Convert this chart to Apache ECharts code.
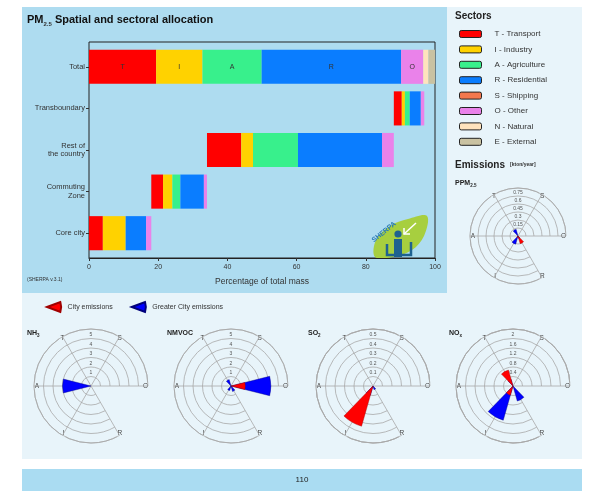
<!DOCTYPE html>
<html><head><meta charset="utf-8">
<script src="https://cdn.jsdelivr.net/npm/echarts@6/dist/echarts.min.js"></script>
<style>html,body{margin:0;padding:0;background:#fff}#c{width:590px;height:491px}</style>
</head><body><div id="c"></div>
<script>
// ---- Bar chart data (percentage of total mass) ----
const categories = ['Total', 'Transboundary', 'Rest of\nthe country', 'Commuting\nZone', 'Core city'];
const sectorNames = ['T - Transport', 'I - Industry', 'A - Agriculture', 'R - Residential', 'S - Shipping', 'O - Other', 'N - Natural', 'E - External'];
const sectorLetters = ['T', 'I', 'A', 'R', 'S', 'O', 'N', 'E'];
const transport   = [19.4, 2.3, 9.9, 3.4, 4.0];
const industry    = [13.4, 0.9, 3.4, 2.7, 6.6];
const agriculture = [17.1, 1.4, 13.0, 2.3, 0];
const residential = [40.3, 3.2, 24.3, 6.8, 5.9];
const shipping    = [0, 0, 0, 0, 0];
const other       = [6.4, 1.0, 3.4, 0.9, 1.5];
const natural     = [1.5, 0, 0, 0, 0];
const external    = [1.9, 0, 0, 0, 0];
const xTicks = [0, 20, 40, 60, 80, 100];

// ---- Emission roses (kton/year), sectors in angular order ----
const polarSectors = ['O', 'S', 'T', 'A', 'I', 'R'];
const ppmRings = [0.15, 0.3, 0.45, 0.6, 0.75];
const ppmCity = [0, 0, 0, 0, 0.03, 0.15];
const ppmGreater = [0, 0, 0.13, 0, 0.16, 0.05];
const nh3Rings = [1, 2, 3, 4, 5];
const nh3City = [0, 0, 0, 0, 0, 0];
const nh3Greater = [0, 0, 0, 3.0, 0, 0];
const nmvocRings = [1, 2, 3, 4, 5];
const nmvocCity = [1.5, 0, 0, 0, 0, 0];
const nmvocGreater = [4.2, 0, 0.7, 0, 0.5, 0.6];
const so2Rings = [0.1, 0.2, 0.3, 0.4, 0.5];
const so2City = [0, 0, 0, 0, 0.44, 0];
const so2Greater = [0, 0, 0, 0, 0.1, 0.04];
const noxRings = [0.4, 0.8, 1.2, 1.6, 2];
const noxCity = [0, 0, 0.7, 0, 0.4, 0];
const noxGreater = [0, 0, 0.3, 0, 1.5, 0.66];

const FONT = '"Liberation Sans", Arial, sans-serif';
const PANEL = '#e8f4fa';
const DARK_PANEL = '#aedcf0';
const sectorColors = ['#ff0000', '#ffd200', '#38f08c', '#0a7dff', '#f4784e', '#ea82ea', '#ffe3bd', '#c9c2a2'];
const sectorData = [transport, industry, agriculture, residential, shipping, other, natural, external];

const rowSums = categories.map((_, i) => sectorData.reduce((s, arr) => s + arr[i], 0));
const offsets = categories.map((_, i) => i === 0 ? 0 : rowSums.slice(i + 1).reduce((s, v) => s + v, 0));

const series = [{
  type: 'bar', name: 'offset', stack: 'm', data: offsets, barWidth: '82%', xAxisIndex: 0, yAxisIndex: 0,
  itemStyle: { color: 'rgba(0,0,0,0)' }, silent: true
}];
sectorData.forEach((arr, s) => series.push({
  type: 'bar', name: sectorNames[s], stack: 'm', data: arr, barWidth: '82%', xAxisIndex: 0, yAxisIndex: 0,
  itemStyle: { color: sectorColors[s] },
  label: {
    show: true, position: 'inside', fontSize: 7, color: '#333', fontFamily: FONT,
    formatter: p => (p.dataIndex === 0 && p.value > 5) ? sectorLetters[s] : ''
  }
}));

const polarDefs = [
  { name: 'PPM', sub: '2.5', rings: ppmRings, city: ppmCity, greater: ppmGreater, center: [518, 236], radius: 48, title: [455, 178] },
  { name: 'NH', sub: '3', rings: nh3Rings, city: nh3City, greater: nh3Greater, center: [91, 386], radius: 57, title: [27, 328] },
  { name: 'NMVOC', sub: '', rings: nmvocRings, city: nmvocCity, greater: nmvocGreater, center: [231, 386], radius: 57, title: [167, 328] },
  { name: 'SO', sub: '2', rings: so2Rings, city: so2City, greater: so2Greater, center: [373, 386], radius: 57, title: [308, 328] },
  { name: 'NO', sub: 'x', rings: noxRings, city: noxCity, greater: noxGreater, center: [513, 386], radius: 57, title: [449, 328] }
];

function ringFormatter(rings) {
  const step = rings[0];
  return v => {
    const k = Math.round(v / step);
    return (k >= 1 && k <= rings.length && Math.abs(v - k * step) < step * 1e-3) ? String(rings[k - 1]) : '';
  };
}

const polar = [], angleAxis = [], radiusAxis = [];
const titles = [
  { left: 27, top: 13, padding: 0, text: '{b|PM}{s|2.5}{b| Spatial and sectoral allocation}',
    textStyle: { rich: { b: { fontSize: 11, fontWeight: 'bold', color: '#111', fontFamily: FONT, lineHeight: 14 },
                         s: { fontSize: 6, color: '#333', fontFamily: FONT, verticalAlign: 'bottom', lineHeight: 14 } } } },
  { left: 27, top: 277, padding: 0, text: '(SHERPA v.3.1)', textStyle: { fontSize: 5, color: '#333', fontWeight: 'normal', fontFamily: FONT } },
  { left: 455, top: 11, padding: 0, text: 'Sectors', textStyle: { fontSize: 10, color: '#222', fontWeight: 'bold', fontFamily: FONT } },
  { left: 455, top: 156, padding: 0, text: '{b|Emissions} {s|[kton/year]}',
    textStyle: { rich: { b: { fontSize: 10, fontWeight: 'bold', color: '#222', fontFamily: FONT, lineHeight: 12 },
                         s: { fontSize: 5, color: '#333', fontFamily: FONT, lineHeight: 12 } } } },
  { left: 302, top: 476, padding: 0, textAlign: 'center', text: '110', textStyle: { fontSize: 8, color: '#222', fontWeight: 'normal', fontFamily: FONT } }
];

polarDefs.forEach((d, i) => {
  const step = d.rings[0];
  polar.push({ center: d.center, radius: d.radius });
  polar.push({ center: d.center, radius: d.radius });
  angleAxis.push({
    polarIndex: 2 * i, type: 'category', data: polarSectors, startAngle: 0, clockwise: false, boundaryGap: false,
    axisLine: { lineStyle: { color: '#a8a8a8', width: 0.8 } },
    axisTick: { show: false },
    axisLabel: { margin: -6, align: 'center', verticalAlign: 'middle', fontSize: 6.5, color: '#444', fontFamily: FONT,
                 backgroundColor: PANEL, padding: [0, 1] },
    splitLine: { show: true, lineStyle: { color: '#a8a8a8', width: 0.8 } }
  });
  radiusAxis.push({
    polarIndex: 2 * i, type: 'value', min: 0, max: step * 6, interval: step,
    axisLine: { show: false }, axisTick: { show: false }, axisLabel: { show: false },
    splitLine: { show: true, lineStyle: { color: '#a8a8a8', width: 0.8 } }
  });
  angleAxis.push({ polarIndex: 2 * i + 1, type: 'value', min: 0, max: 360, startAngle: 90,
    axisLine: { show: false }, axisTick: { show: false }, axisLabel: { show: false }, splitLine: { show: false } });
  radiusAxis.push({
    polarIndex: 2 * i + 1, type: 'value', min: 0, max: step * 6, interval: step,
    axisLine: { show: false }, axisTick: { show: false }, splitLine: { show: false },
    axisLabel: { margin: 0, align: 'center', verticalAlign: 'bottom', padding: [0, 0, 1, 0],
                 fontSize: 5, color: '#555', fontFamily: FONT, formatter: ringFormatter(d.rings) }
  });
  series.push({
    type: 'bar', coordinateSystem: 'polar', polarIndex: 2 * i, name: 'Greater City emissions',
    data: d.greater.map(v => v || null), barWidth: '47%', barGap: '-100%',
    itemStyle: { color: '#0000ff', borderColor: '#00007a', borderWidth: 0.4 }
  });
  series.push({
    type: 'bar', coordinateSystem: 'polar', polarIndex: 2 * i, name: 'City emissions',
    data: d.city.map(v => v || null), barWidth: '47%', barGap: '-100%',
    itemStyle: { color: '#ff0000', borderColor: '#a00000', borderWidth: 0.4 }
  });
  titles.push({
    left: d.title[0], top: d.title[1], padding: 0,
    text: d.sub ? '{a|' + d.name + '}{s|' + d.sub + '}' : '{a|' + d.name + '}',
    textStyle: { rich: { a: { fontSize: 7, color: '#222', fontFamily: FONT, lineHeight: 10 },
                         s: { fontSize: 4.5, color: '#222', fontFamily: FONT, verticalAlign: 'bottom', lineHeight: 10 } } }
  });
});

const option = {
  animation: false,
  backgroundColor: '#ffffff',
  title: titles,
  graphic: [
    { type: 'rect', z: -5, shape: { x: 22, y: 7, width: 560, height: 452 }, style: { fill: PANEL } },
    { type: 'rect', z: -4, shape: { x: 22, y: 7, width: 425, height: 286 }, style: { fill: DARK_PANEL } },
    { type: 'rect', z: -5, shape: { x: 22, y: 469, width: 560, height: 22 }, style: { fill: '#aadcf2' } },
    { type: 'group', z: 5, children: [
      { type: 'polygon', shape: { smooth: 0.35, points: [[375, 257], [376, 240], [390, 226], [408, 219], [427, 216], [424, 236], [412, 250], [393, 257]] }, style: { fill: '#a7cf3f' } },
      { type: 'text', x: 384, y: 232, rotation: 0.68, style: { text: 'SHERPA', align: 'center', verticalAlign: 'middle', fill: '#2a7ab5', font: 'bold 7px "Liberation Sans", Arial' } },
      { type: 'circle', shape: { cx: 398, cy: 234, r: 3.6 }, style: { fill: '#1f6290' } },
      { type: 'rect', shape: { x: 394, y: 239, width: 8, height: 18 }, style: { fill: '#1f6290' } },
      { type: 'polyline', shape: { points: [[387, 244], [387, 255], [411, 255], [411, 242]] }, style: { stroke: '#1f6290', lineWidth: 2.5, fill: null } },
      { type: 'line', shape: { x1: 416, y1: 223, x2: 404, y2: 234 }, style: { stroke: '#ffffff', lineWidth: 1.5 } },
      { type: 'polyline', shape: { points: [[404, 228], [404, 234], [410, 234]] }, style: { stroke: '#ffffff', lineWidth: 1.5, fill: null } }
    ] }
  ],
  legend: [
    {
      data: sectorNames, orient: 'vertical', left: 459, top: 29, padding: 0,
      itemWidth: 22, itemHeight: 7, itemGap: 5.4, icon: 'roundRect', selectedMode: false,
      itemStyle: { borderColor: '#222', borderWidth: 1 },
      textStyle: { fontSize: 8, color: '#333', fontFamily: FONT, lineHeight: 10, padding: [0, 0, 0, 8] }
    },
    {
      data: ['City emissions', 'Greater City emissions'], left: 46, top: 301, padding: 0,
      itemWidth: 17, itemHeight: 10, itemGap: 18, selectedMode: false,
      icon: 'path://M0,6L16,0Q18,6 16,12Z',
      textStyle: { fontSize: 7, color: '#333', fontFamily: FONT }
    }
  ],
  grid: [
    { left: 89, top: 46, width: 346, height: 208, show: false, containLabel: false, outerBoundsMode: 'none' },
    { left: 89, top: 42, width: 346, height: 216, show: true, borderColor: '#222', borderWidth: 1,
      backgroundColor: 'transparent', containLabel: false, outerBoundsMode: 'none' }
  ],
  xAxis: [
    { gridIndex: 0, type: 'value', min: xTicks[0], max: xTicks[xTicks.length - 1], show: false },
    {
      gridIndex: 1, type: 'value', min: xTicks[0], max: xTicks[xTicks.length - 1], interval: xTicks[1] - xTicks[0],
      axisLine: { show: true, lineStyle: { color: '#222' } },
      axisTick: { show: true, length: 3, lineStyle: { color: '#333' } },
      axisLabel: { fontSize: 7, color: '#333', margin: 6, fontFamily: FONT },
      splitLine: { show: false },
      name: 'Percentage of total mass', nameLocation: 'middle', nameGap: 19,
      nameTextStyle: { fontSize: 8.5, color: '#333', fontFamily: FONT }
    }
  ],
  yAxis: [
    {
      gridIndex: 0, type: 'category', data: categories, inverse: true,
      axisLine: { show: false },
      axisTick: { show: true, alignWithLabel: true, length: 3, lineStyle: { color: '#333' } },
      axisLabel: { fontSize: 7.5, color: '#333', lineHeight: 8.5, margin: 4, fontFamily: FONT }
    },
    { gridIndex: 1, type: 'value', min: 0, max: 1, show: false }
  ],
  polar: polar,
  angleAxis: angleAxis,
  radiusAxis: radiusAxis,
  series: series
};

const chart = echarts.init(document.getElementById('c'), null, { renderer: 'canvas', width: 590, height: 491 });
chart.setOption(option);
</script>
</body></html>
